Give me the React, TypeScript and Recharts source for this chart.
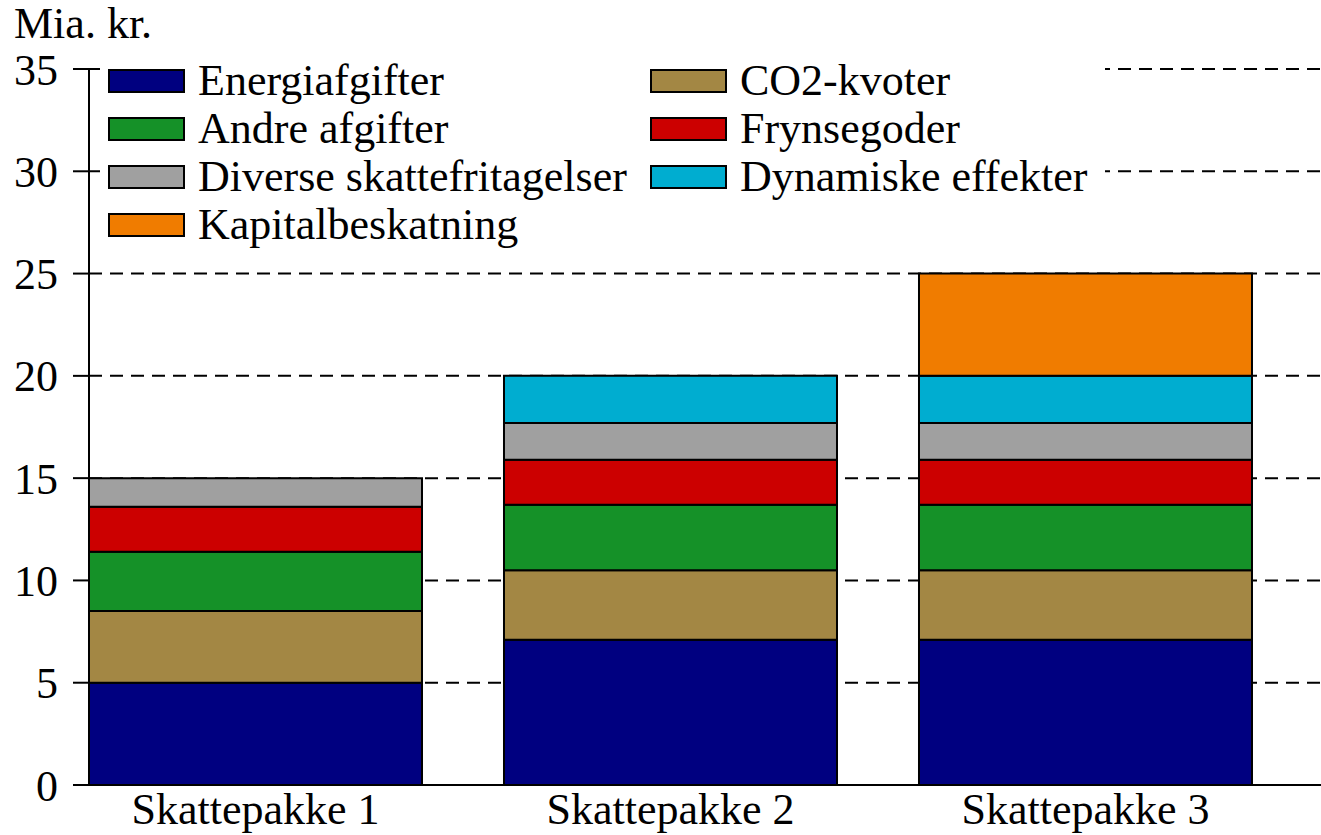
import { BarChart, Bar, XAxis, YAxis, CartesianGrid, Legend } from "recharts";

const packages = ["Skattepakke 1", "Skattepakke 2", "Skattepakke 3"];
const positions = [1, 2, 3];

const energiafgifter = [5.0, 7.1, 7.1];
const co2Kvoter = [3.5, 3.4, 3.4];
const andreAfgifter = [2.9, 3.2, 3.2];
const frynsegoder = [2.2, 2.2, 2.2];
const diverseFritagelser = [1.4, 1.8, 1.8];
const dynamiskeEffekter = [0, 2.3, 2.3];
const kapitalbeskatning = [0, 0, 5.0];

const yTicks = [0, 5, 10, 15, 20, 25, 30, 35];

const series = [
  { key: "energi", name: "Energiafgifter", color: "#000080", values: energiafgifter },
  { key: "co2", name: "CO2-kvoter", color: "#A38744", values: co2Kvoter },
  { key: "andre", name: "Andre afgifter", color: "#159128", values: andreAfgifter },
  { key: "frynse", name: "Frynsegoder", color: "#CC0000", values: frynsegoder },
  { key: "diverse", name: "Diverse skattefritagelser", color: "#A0A0A0", values: diverseFritagelser },
  { key: "dynamiske", name: "Dynamiske effekter", color: "#00ADD0", values: dynamiskeEffekter },
  { key: "kapital", name: "Kapitalbeskatning", color: "#F07C00", values: kapitalbeskatning },
];

const data = packages.map((name, i) => {
  const row: Record<string, number | string> = { name, pos: positions[i] };
  series.forEach((s) => {
    row[s.key] = s.values[i];
  });
  return row;
});

const FONT = "'Liberation Serif', 'Times New Roman', serif";

// legend keeps the stacking order (bottom to top), two columns
function LegendContent() {
  return (
    <div
      style={{
        background: "#fff",
        display: "grid",
        gridTemplateColumns: "542px 440px",
        padding: "0 0 0 8px",
        fontFamily: FONT,
        fontSize: 44,
        color: "#000",
      }}
    >
      {series.map((s) => (
        <div key={s.key} style={{ display: "flex", alignItems: "center", height: 48, whiteSpace: "nowrap" }}>
          <span
            style={{
              display: "inline-block",
              width: 73,
              height: 20,
              background: s.color,
              border: "2px solid #000",
              marginRight: 13,
            }}
          />
          <span style={{ lineHeight: "48px" }}>{s.name}</span>
        </div>
      ))}
    </div>
  );
}

export default function App() {
  return (
    <div
      style={{
        position: "absolute",
        left: 0,
        top: 0,
        width: 1321,
        height: 835,
        overflow: "hidden",
        background: "#fff",
      }}
    >
      <div
        style={{
          position: "absolute",
          left: 14,
          top: 2,
          fontFamily: FONT,
          fontSize: 44,
          lineHeight: "44px",
          color: "#000",
        }}
      >
        Mia. kr.
      </div>
      <BarChart
        width={1321}
        height={835}
        data={data}
        margin={{ top: 69, right: 0, bottom: 0, left: 0 }}
      >
        <CartesianGrid
          vertical={false}
          stroke="#000"
          strokeWidth={2}
          strokeDasharray="13 8"
        />
        <XAxis
          type="number"
          dataKey="pos"
          domain={[0.5988, 3.5675]}
          ticks={positions}
          tickFormatter={(v: number) => packages[positions.indexOf(v)] ?? ""}
          height={50}
          tickLine={false}
          tickSize={0}
          tickMargin={8}
          axisLine={{ stroke: "#000", strokeWidth: 2 }}
          tick={{ fill: "#000", fontSize: 44, fontFamily: FONT }}
          interval={0}
        />
        <YAxis
          domain={[0, 35]}
          ticks={yTicks}
          width={89}
          tickSize={16}
          tickMargin={15}
          axisLine={{ stroke: "#000", strokeWidth: 2 }}
          tickLine={{ stroke: "#000", strokeWidth: 2 }}
          tick={{ fill: "#000", fontSize: 44, fontFamily: FONT }}
          interval={0}
        />
        <Legend
          layout="horizontal"
          verticalAlign="middle"
          align="center"
          wrapperStyle={{ left: 100, top: 57, width: 1005, height: 196 }}
          content={LegendContent}
        />
        {series.map((s) => (
          <Bar
            key={s.key}
            dataKey={s.key}
            name={s.name}
            stackId="a"
            fill={s.color}
            stroke="#000"
            strokeWidth={2}
            barSize={333}
            isAnimationActive={false}
          />
        ))}
      </BarChart>
    </div>
  );
}
